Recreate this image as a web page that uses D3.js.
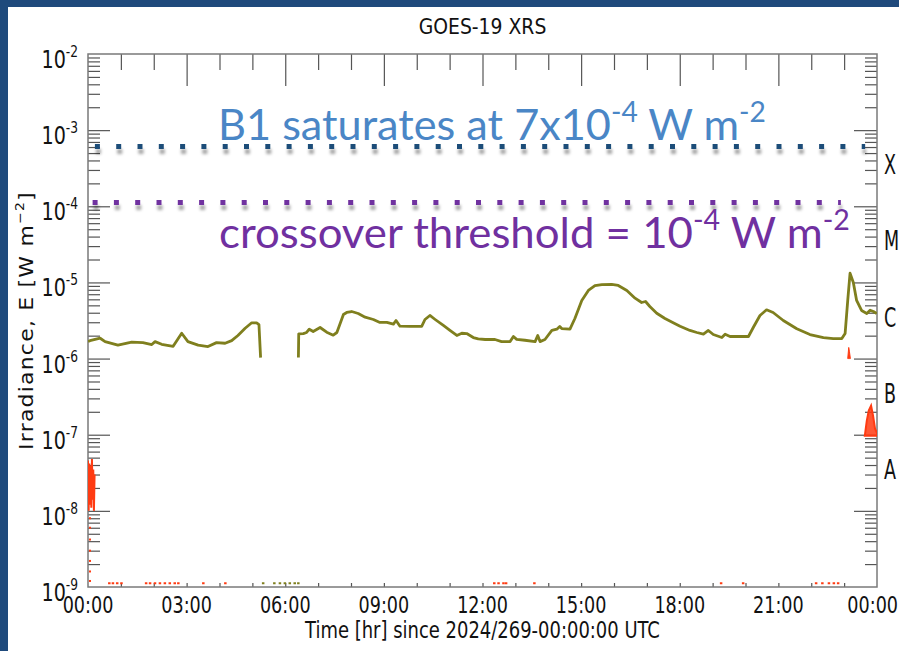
<!DOCTYPE html>
<html><head><meta charset="utf-8">
<script src="https://cdn.jsdelivr.net/npm/d3@7"></script>
<style>
html,body{margin:0;padding:0;background:#1f4a7c;overflow:hidden}
svg{display:block}
</style></head><body>
<svg id="c" width="899" height="651"></svg>
<script>
// ---------- data ----------
const chartTitle = "GOES-19 XRS";
const xTitle = "Time [hr] since 2024/269-00:00:00 UTC";
const yTitle = "Irradiance, E [W m";
const xTickHours = [0,3,6,9,12,15,18,21,24];
const xTickLabels = ["00:00","03:00","06:00","09:00","12:00","15:00","18:00","21:00","00:00"];
const yDecadeExps = [-9,-8,-7,-6,-5,-4,-3,-2];
const flareClasses = ["A","B","C","M","X"];
const flareClassExps = [-7.5,-6.5,-5.5,-4.5,-3.5];

// XRS-B (long channel) irradiance, W m^-2
const longHours = [0,0.06,0.37,0.52,0.91,1.33,1.67,1.94,2.04,2.24,2.59,2.85,3.04,3.35,3.65,3.91,4.17,4.37,4.56,4.78,4.98,5.13,5.20,5.25,5.8,6.40,6.41,6.55,6.65,6.73,6.85,7.06,7.26,7.46,7.57,7.77,7.87,8.02,8.22,8.43,8.68,8.88,9.09,9.29,9.37,9.49,9.79,10.15,10.25,10.40,10.56,10.81,11.01,11.22,11.37,11.52,11.72,11.87,12.08,12.38,12.58,12.84,12.94,13.04,13.29,13.60,13.68,13.75,13.90,14.11,14.26,14.35,14.41,14.66,14.81,15.02,15.22,15.42,15.63,15.93,16.13,16.39,16.64,16.84,16.96,17.09,17.30,17.55,17.83,18.01,18.31,18.52,18.72,18.87,19.02,19.28,19.38,19.53,19.83,20.09,20.24,20.44,20.64,20.84,21.15,21.56,21.96,22.37,22.67,22.93,23.03,23.11,23.18,23.28,23.38,23.53,23.69,23.79,23.89,23.99];
const longValues = [1.67e-6,1.72e-6,1.85e-6,1.67e-6,1.50e-6,1.64e-6,1.62e-6,1.53e-6,1.67e-6,1.54e-6,1.45e-6,2.15e-6,1.67e-6,1.50e-6,1.44e-6,1.62e-6,1.59e-6,1.72e-6,2.01e-6,2.50e-6,2.95e-6,2.95e-6,2.80e-6,1.03e-6,null,1.03e-6,2.11e-6,2.13e-6,2.20e-6,2.43e-6,2.27e-6,2.56e-6,2.22e-6,2.03e-6,2.20e-6,3.79e-6,4.03e-6,4.15e-6,3.91e-6,3.50e-6,3.26e-6,2.98e-6,2.98e-6,2.83e-6,3.16e-6,2.66e-6,2.64e-6,2.64e-6,3.26e-6,3.68e-6,3.26e-6,2.72e-6,2.34e-6,2.01e-6,2.15e-6,2.13e-6,1.89e-6,1.82e-6,1.78e-6,1.78e-6,1.67e-6,1.67e-6,1.95e-6,1.79e-6,1.74e-6,1.67e-6,2.01e-6,1.67e-6,1.78e-6,2.34e-6,2.43e-6,2.64e-6,2.48e-6,2.43e-6,3.36e-6,5.80e-6,7.85e-6,9.05e-6,9.33e-6,9.41e-6,9.13e-6,7.85e-6,6.21e-6,5.45e-6,5.62e-6,4.83e-6,3.94e-6,3.36e-6,2.91e-6,2.66e-6,2.34e-6,2.20e-6,2.09e-6,2.34e-6,2.07e-6,1.89e-6,2.09e-6,1.95e-6,1.95e-6,1.95e-6,2.58e-6,3.68e-6,4.37e-6,4.03e-6,3.16e-6,2.46e-6,2.07e-6,1.89e-6,1.83e-6,1.83e-6,2.13e-6,5.80e-6,1.32e-5,1.0e-5,5.80e-6,4.28e-6,3.91e-6,4.32e-6,4.15e-6,3.91e-6];

// XRS-A (short channel) fragments, W m^-2
const shortStartHours = [0,0.02,0.04,0.06,0.08,0.10,0.12,0.14,0.16,0.18,0.20];
const shortStartValues = [4.6e-8,1.0e-8,4.2e-8,1.2e-8,3.9e-8,1.1e-8,4.8e-8,1.4e-8,3.5e-8,1.0e-8,3.0e-8];
const shortDotValues = [8e-9,6e-9,4.2e-9,3e-9,2.2e-9,1.6e-9,1.2e-9];
const shortSpikeHours = [23.11,23.14,23.16,23.19];
const shortSpikeValues = [1.0e-6,1.4e-6,1.25e-6,1.0e-6];
const shortEndHours = [23.63,23.69,23.75,23.82,23.88,23.94,24.0];
const shortEndValues = [9.7e-8,1.53e-7,2.07e-7,2.4e-7,1.78e-7,1.2e-7,1.06e-7];
const floorRedHours = [0.61,0.72,0.85,0.98,1.73,1.85,2.0,2.15,2.3,2.45,2.6,2.71,3.47,4.14,12.32,12.45,12.6,12.68,13.54,19.22,19.89,22.11,22.3,22.5,22.65,22.78];
const floorOliveHours = [5.29,5.63,5.8,5.95,6.1,6.25,6.36];
const floorValue = 1.12e-9;

// slide annotations
const b1DotLevel = 6.1e-4;
const crossoverDotLevel = 1.12e-4;

// ---------- layout ----------
const W = 899, H = 651;
const L = 88, R = 877, T = 54, B = 587;
const condensed = "'DejaVu Sans Condensed','DejaVu Sans',sans-serif";
const SX = 0.85;

const svg = d3.select("#c");
svg.append("rect").attr("x",8).attr("y",7).attr("width",W-8).attr("height",H-7).attr("fill","#fff");

const defs = svg.append("defs");
const f = defs.append("filter").attr("id","sh").attr("filterUnits","userSpaceOnUse")
  .attr("x",0).attr("y",0).attr("width",W).attr("height",H);
f.append("feDropShadow").attr("dx",1).attr("dy",5).attr("stdDeviation",1.6).attr("flood-color","#000").attr("flood-opacity",0.35);
defs.append("clipPath").attr("id","plotclip").append("rect").attr("x",L).attr("y",T).attr("width",R-L).attr("height",B-T);

const x = d3.scaleLinear().domain([0,24]).range([L,R]);
const y = d3.scaleLog().domain([1e-9,1e-2]).range([B,T]);

const allTicks = y.ticks();
const majorY = allTicks.filter(v => Math.abs(Math.log10(v) - Math.round(Math.log10(v))) < 1e-9);
const minorY = allTicks.filter(v => !majorY.includes(v));
const hours = d3.range(0,25);

const tickColor = "#555";
function styleAxis(g){ g.select(".domain").remove(); g.selectAll(".tick line").attr("stroke",tickColor).attr("stroke-width",1.2); }

// top ticks
svg.append("g").attr("transform",`translate(0,${T})`).call(d3.axisBottom(x).tickValues(hours.filter(h=>h%3!==0)).tickSize(16).tickSizeOuter(0).tickFormat("")).call(styleAxis);
svg.append("g").attr("transform",`translate(0,${T})`).call(d3.axisBottom(x).tickValues(xTickHours.slice(1,-1)).tickSize(32).tickSizeOuter(0).tickFormat("")).call(styleAxis);
// bottom ticks
svg.append("g").attr("transform",`translate(0,${B})`).call(d3.axisTop(x).tickValues(hours.slice(1,-1)).tickSize(4).tickSizeOuter(0).tickFormat("")).call(styleAxis);
// left ticks
svg.append("g").attr("transform",`translate(${L},0)`).call(d3.axisRight(y).tickValues(minorY).tickSize(12).tickSizeOuter(0).tickFormat("")).call(styleAxis);
svg.append("g").attr("transform",`translate(${L},0)`).call(d3.axisRight(y).tickValues(majorY.slice(1,-1)).tickSize(22).tickSizeOuter(0).tickFormat("")).call(styleAxis);
// right ticks
svg.append("g").attr("transform",`translate(${R},0)`).call(d3.axisLeft(y).tickValues(minorY).tickSize(12).tickSizeOuter(0).tickFormat("")).call(styleAxis);
svg.append("g").attr("transform",`translate(${R},0)`).call(d3.axisLeft(y).tickValues(majorY.slice(1,-1)).tickSize(23).tickSizeOuter(0).tickFormat("")).call(styleAxis);

// frame
svg.append("rect").attr("x",L).attr("y",T).attr("width",R-L).attr("height",B-T).attr("fill","none").attr("stroke","#7a7a7a").attr("stroke-width",1.5);

// ---------- data marks ----------
const plot = svg.append("g").attr("clip-path","url(#plotclip)");
const longData = longHours.map((h,i)=>({h, v:longValues[i]}));
plot.append("path").datum(longData)
  .attr("d", d3.line().defined(d=>d.v!=null).x(d=>x(d.h)).y(d=>y(d.v)))
  .attr("fill","none").attr("stroke","#7f7f1e").attr("stroke-width",2.8).attr("stroke-linejoin","round");

const red = "#ff3b12";
plot.append("path").datum(shortStartHours.map((h,i)=>({h,v:shortStartValues[i]})))
  .attr("d", d3.line().x(d=>x(d.h)).y(d=>y(d.v))).attr("fill","none").attr("stroke",red).attr("stroke-width",2);
plot.selectAll(".rdot").data(shortDotValues).join("rect")
  .attr("x", x(0.03)).attr("y", d=>y(d)-1).attr("width",2).attr("height",2).attr("fill",red);
plot.append("path").datum(shortSpikeHours.map((h,i)=>({h,v:shortSpikeValues[i]})))
  .attr("d", d3.area().x(d=>x(d.h)).y0(y(shortSpikeValues[0])).y1(d=>y(d.v))).attr("fill",red).attr("stroke",red).attr("stroke-width",1);
plot.append("path").datum(shortEndHours.map((h,i)=>({h,v:shortEndValues[i]})))
  .attr("d", d3.area().x(d=>x(d.h)).y0(y(shortEndValues[0])).y1(d=>y(d.v))).attr("fill",red).attr("fill-opacity",0.85).attr("stroke",red).attr("stroke-width",2);
plot.selectAll(".fr").data(floorRedHours).join("rect")
  .attr("x", d=>x(d)).attr("y", y(floorValue)-1).attr("width",2.5).attr("height",2).attr("fill",red);
plot.selectAll(".fo").data(floorOliveHours).join("rect")
  .attr("x", d=>x(d)).attr("y", y(floorValue)-1).attr("width",2.5).attr("height",2).attr("fill","#7f7f1e");

// ---------- text ----------
function ctext(px, py, sx, anchor, size, color){
  return svg.append("text").attr("transform",`translate(${px},${py}) scale(${sx},1)`)
    .attr("text-anchor",anchor).attr("font-family",condensed).attr("font-size",size).attr("fill",color||"#111");
}
ctext((L+R)/2, 34, 0.95, "middle", 22).text(chartTitle);

yDecadeExps.forEach(e=>{
  const t = ctext(78, y(Math.pow(10,e))+14, SX, "end", 25);
  t.append("tspan").text("10");
  t.append("tspan").attr("font-size",16).attr("dy",-11).text(String(e));
});
xTickHours.forEach((h,i)=>{
  const last = i === xTickHours.length-1;
  ctext(last ? W-1 : x(h), 613, SX, last ? "end" : "middle", 23).text(xTickLabels[i]);
});
flareClasses.forEach((c,i)=>{
  ctext(884, y(Math.pow(10,flareClassExps[i]))+6, 0.75, "start", 26).text(c);
});
ctext((L+R)/2, 638, SX, "middle", 23.5).text(xTitle);

const yt = svg.append("text").attr("transform",`translate(33,${(T+B)/2}) rotate(-90) scale(1,0.88)`)
  .attr("text-anchor","middle").attr("font-family","'DejaVu Sans',sans-serif").attr("font-size",22)
  .attr("letter-spacing",1.2).attr("fill","#111");
yt.append("tspan").text(yTitle);
yt.append("tspan").attr("font-size",14).attr("dy",-10).text("\u22122");
yt.append("tspan").attr("dy",10).text("]");

// ---------- slide annotations ----------
function dotted(level, h0, h1, color){
  svg.append("line").attr("x1",x(h0)).attr("x2",x(h1)).attr("y1",y(level)).attr("y2",y(level))
    .attr("stroke",color).attr("stroke-width",5).attr("stroke-dasharray","5 16.3").attr("filter","url(#sh)");
}
dotted(b1DotLevel, 0.21, 23.64, "#1f4e79");
dotted(crossoverDotLevel, 0.14, 22.9, "#7030a0");

function annot(px, py, parts, color, targetW){
  const t = svg.append("text").attr("font-family","Lato,'Open Sans',sans-serif").attr("fill",color);
  let prevSup = false;
  parts.forEach(p=>{
    const ts = t.append("tspan").text(p.s).attr("font-size", p.sup?28:43);
    if (p.sup && !prevSup) ts.attr("dy",-18);
    if (!p.sup && prevSup) ts.attr("dy",18);
    prevSup = !!p.sup;
  });
  const bb = t.node().getBBox();
  const sx = targetW / bb.width;
  t.attr("transform",`translate(${px - bb.x*sx},${py}) scale(${sx},1)`);
}
annot(218, 140, [{s:"B1 saturates at 7x10"},{s:"-4",sup:true},{s:" W m"},{s:"-2",sup:true}], "#4a86c6", 548);
annot(219, 248, [{s:"crossover threshold = 10"},{s:"-4",sup:true},{s:" W m"},{s:"-2",sup:true}], "#7030a0", 631);
</script>
</body></html>
